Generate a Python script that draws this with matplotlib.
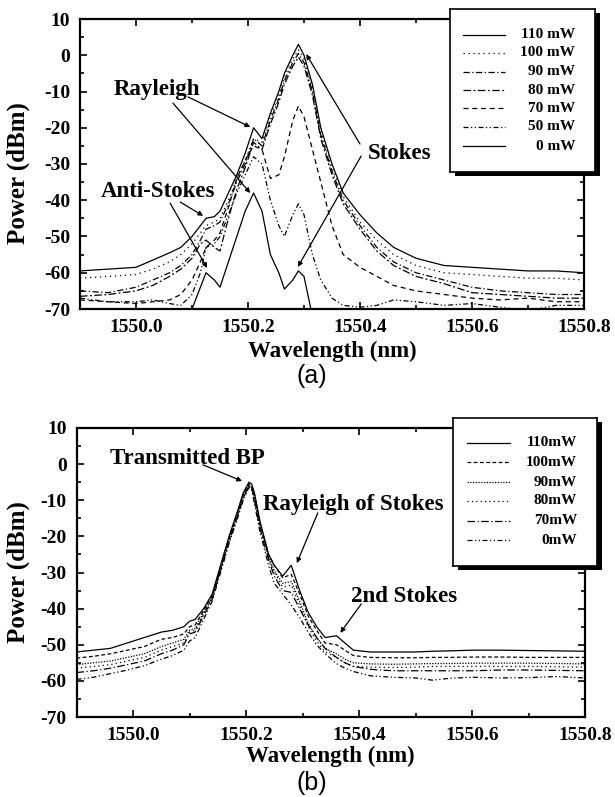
import matplotlib
matplotlib.use("Agg")
import matplotlib.pyplot as plt
from matplotlib.patches import Rectangle
from matplotlib.ticker import MultipleLocator

plt.rcParams["axes.unicode_minus"] = False

# ---- panel (a): pump power sweep, Rayleigh / Stokes / anti-Stokes ----
wl_a = [1549.90, 1549.95, 1550.00, 1550.03, 1550.06, 1550.08, 1550.10, 1550.115,
        1550.125, 1550.14, 1550.15, 1550.165, 1550.18, 1550.195, 1550.21, 1550.225,
        1550.24, 1550.255, 1550.265, 1550.28, 1550.29, 1550.30, 1550.315, 1550.33,
        1550.35, 1550.37, 1550.40, 1550.43, 1550.46, 1550.50, 1550.55, 1550.60,
        1550.65, 1550.70, 1550.75, 1550.80]
a_110 = [-59.5, -59, -58.5, -56.5, -54.5, -53, -50, -47, -45, -44.5, -43, -38, -33, -27,
         -20, -23, -16, -10, -5, 0, 3, 0, -8, -20, -30, -38, -44, -49, -53, -56, -58,
         -58.5, -59, -59.5, -59.5, -60]
a_100 = [-61.5, -61, -60.5, -59, -57, -55, -52, -49, -47, -46, -45, -40, -34, -29,
         -23, -24, -17, -11, -6, -1, 1.5, -1, -9, -21, -31, -39, -46, -51, -55, -58,
         -60, -60.5, -61, -61.5, -61.5, -62]
a_90 = [-65, -65.5, -64, -62, -60, -58, -55, -51, -48, -47, -46, -41, -35, -30,
        -23, -25, -18, -12, -7, -2, 0.5, -2, -10, -22, -32, -40, -47, -53, -57, -60,
        -62, -64, -65, -65.5, -66, -66]
a_80 = [-66.5, -66, -65, -63.5, -61, -59, -56, -52, -51, -53, -54, -45, -37, -31,
        -24, -26, -19, -13, -8, -3, -0.5, -3, -11, -23, -33, -41, -48, -54, -58, -61,
        -63, -65.5, -66, -66.5, -67, -67]
a_70 = [-67.5, -68, -68.5, -68, -67.5, -66, -62, -57, -53, -51, -49, -42, -34, -29,
        -25, -26, -34, -33, -28, -18, -14, -17, -26, -35, -47, -55, -58.5, -61, -63.5,
        -65, -66, -67, -67.5, -67, -68, -68]
a_50 = [-67, -68, -68, -67.5, -68.5, -69, -66, -60, -53, -52, -50, -44, -38, -33,
        -28, -30, -40, -47, -50, -44, -41, -44, -55, -62, -67, -69, -69.5, -69, -67.5,
        -68, -69, -68.5, -69.5, -70.5, -69, -69]
a_0 = [-80, -80, -80, -80, -80, -76, -70, -64, -60, -62, -64, -57, -50, -43,
       -38, -43, -55, -60, -64.5, -62, -59.5, -61, -72, -80, -80, -80, -80, -80, -80,
       -80, -80, -80, -80, -80, -80, -80]

labels_a = ["110 mW", "100 mW", "90 mW", "80 mW", "70 mW", "50 mW", "0 mW"]
series_a = [a_110, a_100, a_90, a_80, a_70, a_50, a_0]
styles_a = ["-", (0, (1, 3)), (0, (5, 2, 1, 2)), (0, (6, 2, 1.5, 2)), (0, (4, 3)),
            (0, (4, 2, 1, 2, 1, 2)), "-"]

# ---- panel (b): transmitted BP, Rayleigh of Stokes, 2nd Stokes ----
wl_b = [1549.90, 1549.93, 1549.96, 1549.99, 1550.02, 1550.05, 1550.07, 1550.09, 1550.10,
        1550.11, 1550.125, 1550.14, 1550.155, 1550.17, 1550.185, 1550.195, 1550.205,
        1550.21, 1550.215, 1550.225, 1550.24, 1550.25, 1550.265, 1550.28, 1550.295,
        1550.31, 1550.325, 1550.34, 1550.36, 1550.375, 1550.39, 1550.42, 1550.46,
        1550.50, 1550.53, 1550.56, 1550.60, 1550.65, 1550.70, 1550.75, 1550.80]
b_110 = [-52, -51.5, -51, -49.5, -48, -46.5, -46, -45, -43.5, -43, -40, -36, -28, -20,
         -13, -8, -5, -5.5, -8, -16, -25, -28, -31, -28, -35, -41, -45, -48, -47.5,
         -49.5, -51.5, -52, -52, -52, -51.8, -51.7, -51.5, -51.5, -51.6, -51.7, -51.8]
b_100 = [-53.7, -53.2, -52.5, -51.5, -50.5, -48.5, -48, -47, -45, -44.5, -40.5, -36.5,
         -28.5, -20.5, -13.5, -8.5, -5.5, -6, -8.5, -16.5, -25, -28, -31.5, -30.5, -36,
         -42, -46, -49.5, -50, -51.5, -53, -53.5, -53.6, -53.6, -53.5, -53.5, -53.4,
         -53.4, -53.5, -53.5, -53.5]
b_90 = [-55.5, -55, -54.5, -53.5, -52.5, -50.5, -49.5, -48.5, -46, -45.5, -41, -37,
        -29, -21, -14, -9, -6, -6.5, -9, -17, -25.5, -29.5, -33, -32.5, -38, -44, -48,
        -51, -52.5, -54, -55, -55.3, -55.4, -55.3, -55.2, -55.2, -55.1, -55.1, -55.1,
        -55.2, -55.3]
b_80 = [-56.5, -56, -55.5, -54.5, -53.5, -51.5, -50.5, -49.5, -46.5, -46, -41.5, -37,
        -29, -21, -14, -9, -6, -6.5, -9.5, -17.5, -26, -30, -34, -33.5, -39, -45, -49,
        -52, -53.5, -55, -56, -56.2, -56.3, -56.2, -56, -56, -56, -56, -56, -56.1, -56.2]
b_70 = [-57.7, -57.2, -56.5, -55.5, -54.5, -52.5, -51.5, -50, -47, -46.5, -42, -37.5,
        -29.5, -21.5, -14.5, -9.5, -6, -6.5, -10, -18, -26.5, -31, -35, -35.5, -40,
        -44.5, -48, -51, -53.5, -55, -56, -56.8, -57.2, -57.2, -57.2, -57.2, -57.2, -57,
        -57, -57.1, -57.2]
b_0 = [-59.6, -59, -58, -57, -55.8, -54, -53, -51.5, -49, -48, -43, -38, -30, -22,
       -15, -10, -6.5, -7, -11, -19, -28, -33, -36, -39, -42.5, -46.5, -50, -52.5,
       -55.2, -56.5, -57.4, -58.6, -59, -59.2, -59.8, -59.3, -59, -59.2, -59.1, -58.8,
       -59.2]

labels_b = ["110mW", "100mW", "90mW", "80mW", "70mW", "0mW"]
series_b = [b_110, b_100, b_90, b_80, b_70, b_0]
styles_b = ["-", (0, (3, 2)), (0, (1, 1.2)), (0, (1, 2.5)), (0, (6, 2, 1, 2)),
            (0, (4, 2, 1, 2, 1, 2))]

serif = "Liberation Serif"

fig = plt.figure(figsize=(6.15, 7.97), dpi=100)


def style_axes(ax):
    ax.set_xlim(1549.9, 1550.8)
    ax.set_ylim(-70, 10)
    ax.xaxis.set_major_locator(MultipleLocator(0.2))
    ax.xaxis.set_minor_locator(MultipleLocator(0.1))
    ax.yaxis.set_major_locator(MultipleLocator(10))
    ax.yaxis.set_minor_locator(MultipleLocator(5))
    ax.xaxis.set_major_formatter(matplotlib.ticker.FormatStrFormatter("%.1f"))
    ax.tick_params(which="both", direction="in", top=True, right=True, width=1.2)
    ax.tick_params(which="major", length=5, pad=7)
    ax.tick_params(which="minor", length=3)
    for lab in ax.get_xticklabels() + ax.get_yticklabels():
        lab.set_fontfamily(serif)
        lab.set_fontweight("bold")
        lab.set_fontsize(14)
    for sp in ax.spines.values():
        sp.set_linewidth(1.6)
    ax.set_xlabel("Wavelength (nm)", fontfamily=serif, fontweight="bold", fontsize=16.5)
    ax.set_ylabel("Power (dBm)", fontfamily=serif, fontweight="bold", fontsize=18)


def draw_legend(box_px, rows_px, x0_px, x1_px, xt_px, labels, styles):
    # box_px = (left, top, right, bottom) in pixels from the top-left corner
    l, t, r, b = box_px
    W, H = 615.0, 797.0
    shadow = Rectangle((l / W + 5 / W, 1 - b / H - 4 / H), (r - l) / W, (b - t) / H,
                       transform=fig.transFigure, facecolor="black", zorder=1)
    fig.patches.append(shadow)
    lax = fig.add_axes([l / W, 1 - b / H, (r - l) / W, (b - t) / H])
    lax.set_zorder(2)
    lax.set_xlim(l, r)
    lax.set_ylim(b, t)
    lax.set_xticks([])
    lax.set_yticks([])
    for sp in lax.spines.values():
        sp.set_linewidth(1.2)
    for y, lab, ls in zip(rows_px, labels, styles):
        lax.plot([x0_px, x1_px], [y, y], color="black", lw=0.9, linestyle=ls)
        lax.text(xt_px, y, lab, ha="right", va="center", fontfamily=serif,
                 fontweight="bold", fontsize=11)


arrow = dict(arrowstyle="-|>", color="black", lw=0.9, mutation_scale=7,
             shrinkA=0, shrinkB=0)
txt = dict(fontfamily=serif, fontweight="bold", fontsize=16.5, ha="center", va="baseline")

# ---- top panel ----
ax1 = fig.add_axes([80 / 615, 1 - 309 / 797, 504 / 615, 290 / 797])
for y, lab, ls in zip(series_a, labels_a, styles_a):
    ax1.plot(wl_a, y, color="black", lw=0.9, linestyle=ls, label=lab)
style_axes(ax1)
ax1.yaxis.set_label_coords(-0.10, 0.47)
ax1.xaxis.set_label_coords(0.5, -0.11)

ax1.text(1550.037, -11, "Rayleigh", **txt)
ax1.annotate("", xy=(1550.204, -19.8), xytext=(1550.093, -11.5), arrowprops=arrow)
ax1.annotate("", xy=(1550.204, -38.0), xytext=(1550.066, -13.2), arrowprops=arrow)
ax1.text(1550.039, -39.1, "Anti-Stokes", **txt)
ax1.annotate("", xy=(1550.12, -44.3), xytext=(1550.079, -40.5), arrowprops=arrow)
ax1.annotate("", xy=(1550.127, -58.7), xytext=(1550.061, -40.8), arrowprops=arrow)
ax1.text(1550.47, -28.6, "Stokes", **txt)
ax1.annotate("", xy=(1550.304, 0.3), xytext=(1550.40, -24.5), arrowprops=arrow)
ax1.annotate("", xy=(1550.289, -58.4), xytext=(1550.402, -27.8), arrowprops=arrow)

draw_legend((450, 9, 595, 172), [35, 53, 72, 90, 108, 127, 146], 463, 505, 575,
            labels_a, styles_a)
fig.text(312 / 615, 1 - 376 / 797, "(a)", fontfamily="Liberation Sans", fontsize=18,
         ha="center", va="center")

# ---- bottom panel ----
ax2 = fig.add_axes([76.5 / 615, 1 - 717 / 797, 508.5 / 615, 289 / 797])
for y, lab, ls in zip(series_b, labels_b, styles_b):
    ax2.plot(wl_b, y, color="black", lw=0.9, linestyle=ls, label=lab)
style_axes(ax2)
ax2.yaxis.set_label_coords(-0.092, 0.5)
ax2.xaxis.set_label_coords(0.5, -0.10)

ax2.text(1550.097, 0.0, "Transmitted BP", **txt)
ax2.annotate("", xy=(1550.193, -4.7), xytext=(1550.124, -0.2), arrowprops=arrow)
ax2.text(1550.39, -12.7, "Rayleigh of Stokes", **txt)
ax2.annotate("", xy=(1550.29, -27.4), xytext=(1550.327, -13.5), arrowprops=arrow)
ax2.text(1550.479, -38.2, "2nd Stokes", **txt)
ax2.annotate("", xy=(1550.367, -46.7), xytext=(1550.404, -38.7), arrowprops=arrow)

draw_legend((453, 418, 597, 566), [443, 462, 482, 501, 521, 540], 467, 510, 577,
            labels_b, styles_b)
fig.text(312 / 615, 1 - 783 / 797, "(b)", fontfamily="Liberation Sans", fontsize=18,
         ha="center", va="center")

fig.savefig("out.png", dpi=100, facecolor="white")
